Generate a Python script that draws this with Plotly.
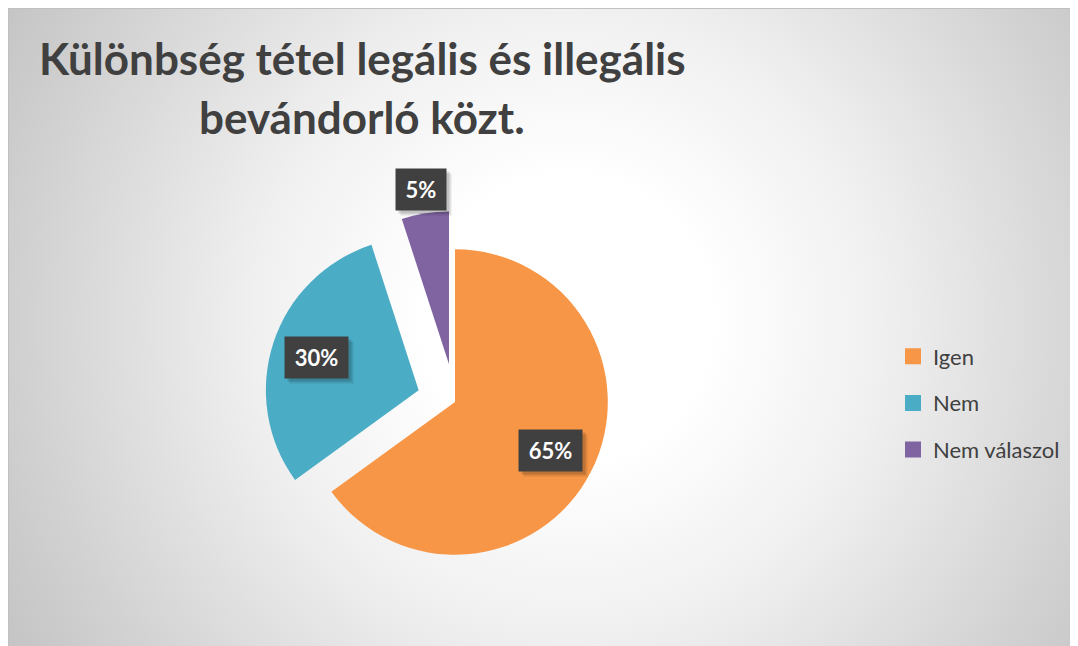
import math
import base64
import plotly.graph_objects as go

# ---- data ----
categories = ["Igen", "Nem", "Nem válaszol"]
values = [65, 30, 5]
title_lines = ["Különbség tétel legális és illegális", "bevándorló közt."]

# ---- style ----
colors = ["#F79646", "#4BACC6", "#8064A2"]
pulls = [0, 0.25, 0.25]
label_radius = [0.70, 0.70, 1.16]   # label distance (fraction of radius) from slice centre
label_box_w = [63, 63, 50]
label_box_h = 41
W, H = 1078, 646
FONT = "Lato"
dom_x = [256 / W, 638 / W]
dom_y = [1 - 585 / H, 1 - 203 / H]

fig = go.Figure()

fig.add_trace(go.Pie(
    labels=categories, values=values, sort=False, direction="clockwise",
    rotation=0, pull=pulls, textinfo="none", showlegend=False,
    marker=dict(colors=colors, line=dict(width=0)),
    domain=dict(x=dom_x, y=dom_y),
))

# legend proxies (one per category) for spacing control
for i, (cat, col) in enumerate(zip(categories, colors)):
    fig.add_trace(go.Scatter(
        x=[None], y=[None], mode="markers", name=cat, legendgroup=f"g{i}",
        marker=dict(symbol="square", size=16, color=col),
    ))

# ---- percentage labels, positioned from the pie geometry ----
cx = W * (dom_x[0] + dom_x[1]) / 2
cy = H * (1 - (dom_y[0] + dom_y[1]) / 2)
r = min(W * (dom_x[1] - dom_x[0]), H * (dom_y[1] - dom_y[0])) / (2 + 2 * max(pulls))
total = sum(values)
cum = 0
annotations = []
for i, v in enumerate(values):
    th = 2 * math.pi * (cum + v / 2) / total
    cum += v
    dx, dy = math.sin(th), -math.cos(th)
    px = cx + (pulls[i] + label_radius[i]) * r * dx
    py = cy + (pulls[i] + label_radius[i]) * r * dy
    pct = f"{round(100 * v / total)}%"
    common = dict(x=px / W, y=1 - py / H, xref="paper", yref="paper", showarrow=False,
                  xanchor="center", yanchor="middle",
                  width=label_box_w[i], height=label_box_h, borderpad=0)
    # soft shadow
    for k, a in [(5, 0.10), (3, 0.14)]:
        annotations.append(dict(common, text=" ", bgcolor=f"rgba(0,0,0,{a})",
                                xshift=k, yshift=-k, font=dict(size=22, family=FONT)))
    annotations.append(dict(common, text=f"<b>{pct}</b>", bgcolor="#404040",
                            font=dict(size=22, family=FONT, color="white")))

# ---- title (two lines) ----
title_y = [50, 109]
for line, ty in zip(title_lines, title_y):
    annotations.append(dict(
        x=354 / W, y=1 - ty / H, xref="paper", yref="paper", showarrow=False,
        xanchor="center", yanchor="middle",
        text=f"<b>{line}</b>", font=dict(size=44, family=FONT, color="#404040"),
    ))

# ---- radial gradient background of chart area ----
svg = f'''<svg xmlns="http://www.w3.org/2000/svg" width="{W}" height="{H}" viewBox="0 0 {W} {H}" preserveAspectRatio="none">
<defs><radialGradient id="g" gradientUnits="userSpaceOnUse" cx="560" cy="312" r="650">
<stop offset="0" stop-color="#ffffff"/>
<stop offset="0.22" stop-color="#ffffff"/>
<stop offset="0.48" stop-color="#f0f0f0"/>
<stop offset="0.85" stop-color="#d0d0d0"/>
<stop offset="1" stop-color="#c4c4c4"/>
</radialGradient></defs>
<rect x="0" y="0" width="{W}" height="{H}" fill="url(#g)"/>
<rect x="0.5" y="0.5" width="{W}" height="{H}" fill="none" stroke="#c0c0c0" stroke-width="1"/>
</svg>'''
src = "data:image/svg+xml;base64," + base64.b64encode(svg.encode()).decode()

fig.update_layout(
    width=W, height=H,
    margin=dict(l=0, r=0, t=0, b=0),
    paper_bgcolor="#d8d8d8", plot_bgcolor="rgba(0,0,0,0)",
    xaxis=dict(visible=False), yaxis=dict(visible=False),
    images=[dict(source=src, xref="paper", yref="paper", x=0, y=1,
                 sizex=1, sizey=1, sizing="stretch", layer="below",
                 xanchor="left", yanchor="top")],
    legend=dict(x=885 / W, y=1 - 395 / H, xanchor="left", yanchor="middle",
                bgcolor="rgba(0,0,0,0)", tracegroupgap=15,
                font=dict(size=22, family=FONT, color="#404040")),
    annotations=annotations,
    showlegend=True,
)

fig.write_html("out.html")
